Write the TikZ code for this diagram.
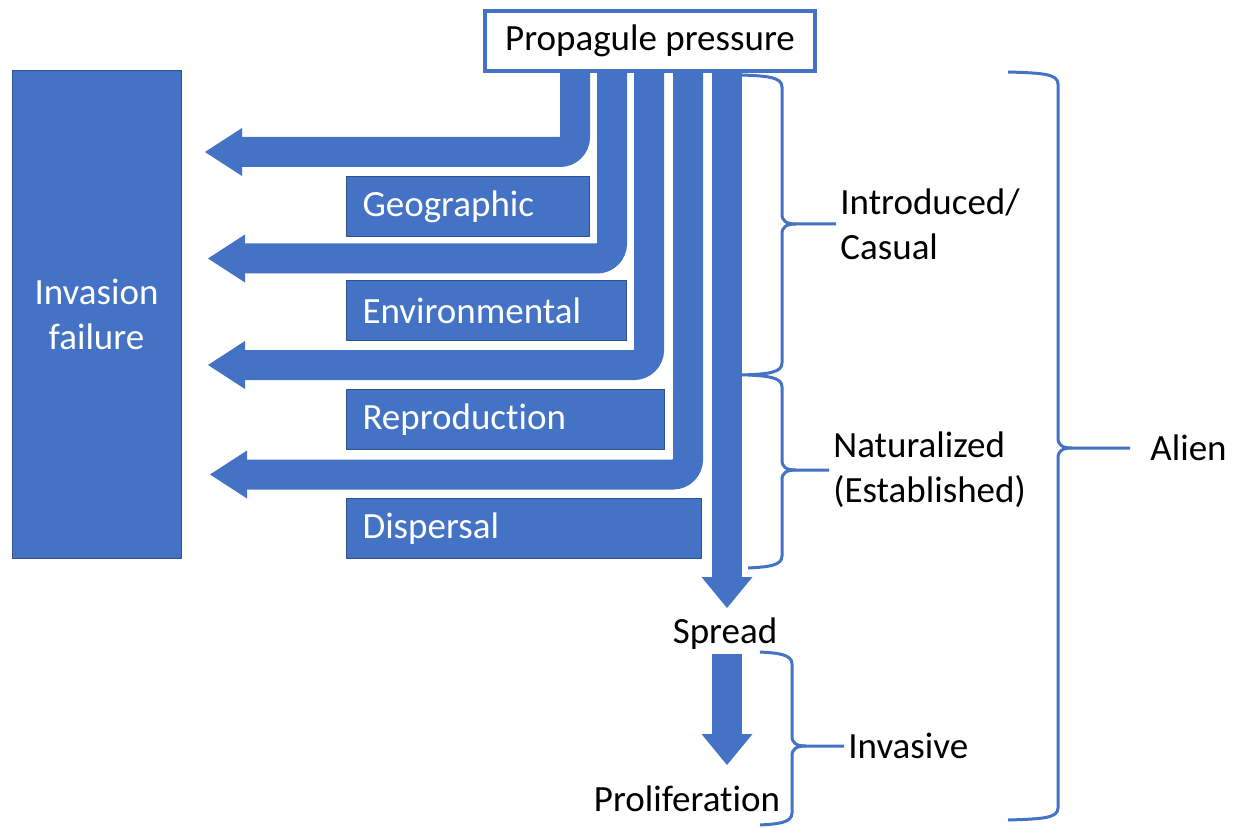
\documentclass[tikz,border=0pt]{standalone}
\usepackage{fontspec}
\setmainfont[RawFeature={-liga;-clig;-calt}]{Carlito}
\usetikzlibrary{positioning,arrows.meta}
\definecolor{offblue}{HTML}{4472C4}
\definecolor{offedge}{HTML}{2F528F}
\tikzset{
  flow/.style={draw=offblue,line width=15pt,rounded corners=7.5pt,
    -{Triangle[length=18.5pt,width=24pt,line width=0pt]}},
  flowbig/.style={flow,-{Triangle[length=15.5pt,width=25.5pt,line width=0pt]}},
  factor/.style={fill=offblue,draw=offedge,line width=0.5pt,text=white,anchor=north west,
    minimum height=30pt,inner xsep=8pt,align=left},
  lbl/.style={inner sep=2pt,align=left},
  stage/.style={draw=offblue,line width=1.5pt,line join=round},  % brace line
}
% end x, spine x, top y, tip y, bottom y, label node
\newcommand{\stagebrace}[6]{%
  \draw[stage] (#1,#3) .. controls ({#2-15},{#3+1}) and (#2,{#3+2}) .. (#2,{#3+12})
    -- (#2,{#4-10}) .. controls (#2,{#4-3}) and ({#2+4},#4) .. ({#2+14},#4) -- (#6.west);
  \draw[stage] (#1,#5) .. controls ({#2-15},{#5-1}) and (#2,{#5-2}) .. (#2,{#5-12})
    -- (#2,{#4+10}) .. controls (#2,{#4+3}) and ({#2+4},#4) .. ({#2+14},#4);
}
\begin{document}
\begin{tikzpicture}[x=0.5pt,y=-0.5pt,font=\fontsize{18.5}{22.5}\selectfont]
  \useasboundingbox (0,0) rectangle (1234,828);
  \node[draw=offblue,line width=2pt,minimum width=165pt,minimum height=30pt,inner sep=0pt]
    (pp) at (650,41) {Propagule pressure};
  \node[fill=offblue,draw=offedge,line width=0.5pt,text=white,minimum width=84.5pt,
    minimum height=243.5pt,align=center] (fail) at (96.5,314.5) {Invasion\\failure};
  % barriers
  \node[factor,text width=105.5pt] (geo) at (346,176) {Geographic};
  \node[factor,text width=124pt] (env) at (346,280) {Environmental};
  \node[factor,text width=143pt] (rep) at (346,389) {Reproduction};
  \node[factor,text width=161.5pt] (dis) at (346,498) {Dispersal};
  % losses to failure
  \foreach \n/\sx/\ty/\tx in {1/575/152/205, 2/612/258.5/208, 3/649/365/208, 4/688/474.5/210}{
    \coordinate (s\n) at (\sx,0);
    \coordinate (f\n) at (\tx,\ty);
    \draw[flow] (pp.south -| s\n) |- (f\n);
  }
  \node[lbl] (spread) at (725,634) {Spread};
  \node[lbl] (prolif) at (687,799) {Proliferation};
  \coordinate (t5) at (727,608);
  \coordinate (t6) at (727,765);
  \draw[flowbig] (pp.south -| t5) -- (t5);
  \draw[flowbig] (spread.south -| t6) -- (t6);
  % stages
  \node[lbl,anchor=west] (intro) at (836,224) {Introduced/\\Casual};
  \node[lbl,anchor=west] (natur) at (829,470) {Naturalized\\(Established)};
  \node[lbl,anchor=west,inner xsep=10pt] (alien) at (1130,448) {Alien};
  \node[lbl,anchor=west] (invas) at (844,746) {Invasive};
  \stagebrace{742}{782}{75}{224}{375}{intro}
  \stagebrace{748}{782}{375}{470}{568}{natur}
  \stagebrace{1008}{1058}{72}{448}{820}{alien}
  \stagebrace{760}{792}{652}{746}{825}{invas}
\end{tikzpicture}
\end{document}
